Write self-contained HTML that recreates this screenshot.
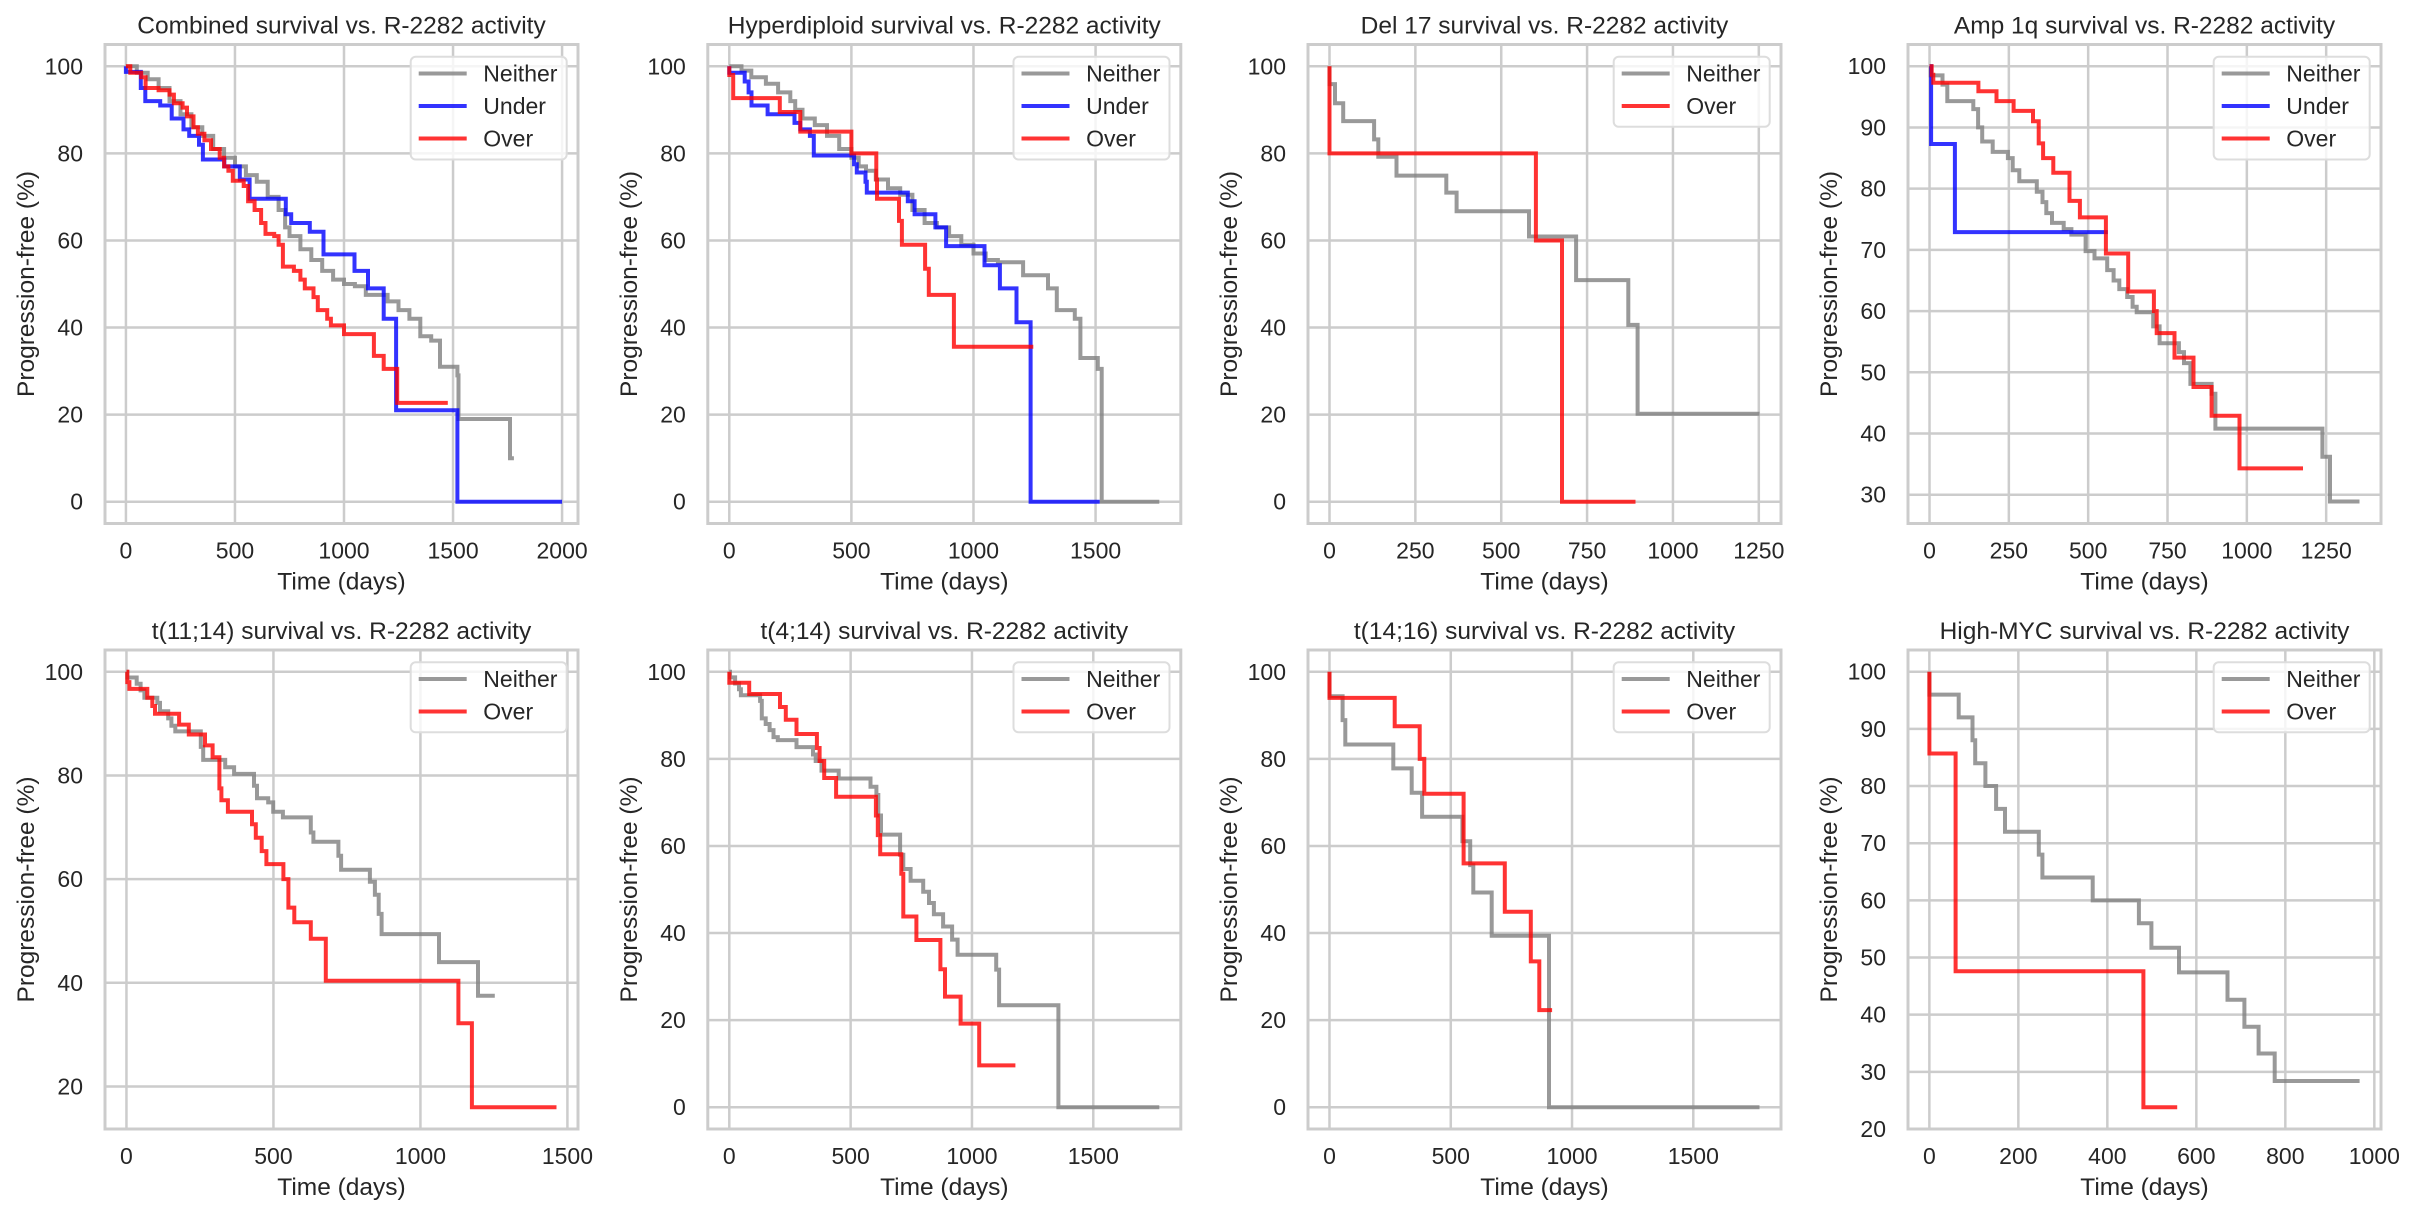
<!DOCTYPE html>
<html><head><meta charset="utf-8"><style>
html,body{margin:0;padding:0;background:#fff;}
svg{display:block;font-family:"Liberation Sans",Arial,sans-serif;}
</style></head><body>
<svg id="s" xmlns="http://www.w3.org/2000/svg" width="2418" height="1218" viewBox="0 0 2418 1218"></svg>
<script>
var NS="http://www.w3.org/2000/svg";
var S=document.getElementById('s');
function el(n,a,p){var e=document.createElementNS(NS,n);for(var k in a)e.setAttribute(k,a[k]);(p||S).appendChild(e);return e;}
function txt(x,y,t,a){var e=el('text',Object.assign({x:x,y:y,fill:'#262626'},a));e.textContent=t;return e;}
var G='rgba(128,128,128,0.8)',B='rgba(0,0,255,0.8)',R='rgba(255,0,0,0.8)';
var lefts=[105,707.8,1308,1908],tops=[44.5,650],W=473,H=479;
var P=[
{t:"Combined survival vs. R-2282 activity",xl:[-96,2073],yl:[-5,105],xt:[0,500,1000,1500,2000],yt:[0,20,40,60,80,100],lg:[["Neither",G],["Under",B],["Over",R]],s:[
[G,"0,100 50,98.5 100,97 150,95 200,92 250,89 300,86 350,84 400,81 450,79 500,77 550,75 600,73.5 650,70 700,67 730,63 750,61 800,58 850,55.5 900,53 950,51 1000,50 1050,49.5 1100,47.5 1200,46 1250,44 1300,42 1350,38 1400,37 1440,31 1520,29 1525,19 1761,10 1779,10"],
[B,"0,100 0,98.7 68,95 89,92 157,91 210,88 264,85.5 290,84 335,82 353,78.6 451,77 522,74 567,69.6 733,66 758,64 843,62 906,56.8 1048,53 1110,49 1182,42 1239,21 1520,0 2000,0"],
[R,"0,100 20,98.5 70,97.5 90,95 150,94.5 200,93.5 220,91.5 260,90.5 280,88.5 310,86 330,84.5 360,83 390,81 430,79 450,77 470,76 490,73.7 540,72.5 560,69 590,67 620,64 640,61.5 680,61 700,59 720,54 770,53 800,51 820,49 860,47 880,44 923,42 940,40.5 1000,38.5 1137,33.5 1182,30.5 1244,22.7 1476,22.7"]]},
{t:"Hyperdiploid survival vs. R-2282 activity",xl:[-88,1849],yl:[-5,105],xt:[0,500,1000,1500],yt:[0,20,40,60,80,100],lg:[["Neither",G],["Under",B],["Over",R]],s:[
[G,"0,100 50,99 90,97.5 150,96 200,94 250,92 270,90 300,88 350,86.5 400,84 450,81 500,79 530,77 560,76 600,74 650,72 700,70.5 750,67 800,64 850,63 900,61 950,59 1000,57 1050,55.5 1100,55 1203,52 1305,49 1341,44 1415,42 1438,33 1509,30.5 1525,0 1761,0"],
[B,"0,100 0,98.5 63,96.5 79,94 91,91 157,89 267,87 291,85.5 330,84 346,79.5 511,77.5 522,75.6 558,73.5 563,71 731,69 759,66 844,63 888,58.7 1045,54.3 1108,49 1176,41.2 1234,0 1517,0"],
[R,"0,100 0,98 16,92.7 207,89.5 291,85 500,80 602,74 605,69.6 695,64.5 707,59 802,53.5 817,47.5 920,35.6 1245,35.6"]]},
{t:"Del 17 survival vs. R-2282 activity",xl:[-62.6,1314.6],yl:[-5,105],xt:[0,250,500,750,1000,1250],yt:[0,20,40,60,80,100],lg:[["Neither",G],["Over",R]],s:[
[G,"0,100 0,95.9 16,91.5 40,87.4 130,83.2 142,79.2 195,74.9 340,71 370,66.7 581,60.9 718,50.9 870,40.6 897,20.2 1252,20.2"],
[R,"0,100 0,80 601,60 677,0 891,0"]]},
{t:"Amp 1q survival vs. R-2282 activity",xl:[-67.8,1422.8],yl:[25.3,103.55],xt:[0,250,500,750,1000,1250],yt:[30,40,50,60,70,80,90,100],lg:[["Neither",G],["Under",B],["Over",R]],s:[
[G,"0,100 4,98.5 41,97 56,94.3 138,93 153,90 166,87.7 199,86 247,85 262,83 283,81.2 338,79.5 356,77.8 368,76 386,74.4 423,73.4 447,72.5 492,69.8 520,68.6 560,66.7 580,65 598,63.6 623,62.3 640,60.7 653,59.8 705,57.5 725,54.75 786,53.3 802,51.5 822,48.1 889,46.5 901,40.8 1238,36.2 1262,28.9 1355,28.9"],
[B,"0,100 5,87.3 80,72.9 562,72.9"],
[R,"0,100 7,98.6 12,97.3 154,95.9 211,94.3 265,92.7 326,91 344,87.4 358,85 390,82.6 441,78 474,75.3 556,69.4 626,63.2 707,60 716,56.4 772,52.4 832,47.6 889,42.9 977,34.3 1177,34.3"]]},
{t:"t(11;14) survival vs. R-2282 activity",xl:[-73,1536],yl:[11.8,104.2],xt:[0,500,1000,1500],yt:[20,40,60,80,100],lg:[["Neither",G],["Over",R]],s:[
[G,"0,100 3,98.9 35,97.7 48,96.4 61,95 105,94 114,92.4 142,91 153,89.6 166,88.5 253,85.5 261,83 336,81.6 366,80.3 434,78 444,75.6 482,74.8 499,73 532,71.9 627,69 636,67.2 721,64.5 730,61.8 828,59.5 845,57 858,53.3 868,49.4 1063,44 1196,37.5 1253,37.5"],
[R,"0,100 3,98 10,96.7 71,95 88,93.4 97,91.9 179,89.8 212,87.9 267,85.8 293,83.5 316,77.5 323,75.2 345,73 427,70.6 440,68 460,65.4 476,62.9 534,60 551,54.5 571,51.7 627,48.5 678,40.4 1129,32.2 1175,16 1463,16"]]},
{t:"t(4;14) survival vs. R-2282 activity",xl:[-88.6,1860.6],yl:[-5,105],xt:[0,500,1000,1500],yt:[0,20,40,60,80,100],lg:[["Neither",G],["Over",R]],s:[
[G,"0,100 3,98.7 24,97.3 40,96 48,94.6 127,93.3 134,89.3 150,88 166,86.6 182,85 200,84.3 277,82.7 345,81 356,79.5 380,77.3 451,75.5 582,73.6 606,71.7 614,67 625,62.6 704,58 717,54.7 747,52 799,49.5 823,46.9 843,44.3 881,41.5 918,38.5 941,35 1100,31.6 1112,23.4 1356,0 1772,0"],
[R,"0,100 0,97.5 82,94.9 209,91.9 233,89 277,85.7 361,82.5 372,79.5 391,75.6 440,71.3 604,67 612,62.5 622,58.1 709,53.6 717,43.8 771,38.4 870,31.7 889,25.4 953,19.2 1030,9.6 1179,9.6"]]},
{t:"t(14;16) survival vs. R-2282 activity",xl:[-88.6,1861.6],yl:[-5,105],xt:[0,500,1000,1500],yt:[0,20,40,60,80,100],lg:[["Neither",G],["Over",R]],s:[
[G,"0,100 0,94.4 54,88.9 65,83.3 263,77.8 339,72.2 382,66.7 548,61.1 580,55.6 593,49.3 669,39.4 905,0 1773,0"],
[R,"0,100 0,94 269,87.5 372,80 391,72 553,56 723,44.9 830,33.5 865,22.3 918,22.3"]]},
{t:"High-MYC survival vs. R-2282 activity",xl:[-48,1015],yl:[20,103.8],xt:[0,200,400,600,800,1000],yt:[20,30,40,50,60,70,80,90,100],lg:[["Neither",G],["Over",R]],s:[
[G,"0,100 0,96 66,92 97,88 103,84 126,80 150,76 170,72 246,68 254,64 367,60 471,56 499,51.7 561,47.4 670,42.6 708,37.9 740,33.2 776,28.4 967,28.4"],
[R,"0,100 0,85.7 59,47.6 481,23.8 557,23.8"]]}
];
P.forEach(function(p,i){
  var L=lefts[i%4],T=tops[Math.floor(i/4)];
  var fx=function(v){return L+(v-p.xl[0])/(p.xl[1]-p.xl[0])*W;};
  var fy=function(v){return T+H-(v-p.yl[0])/(p.yl[1]-p.yl[0])*H;};
  var cid='c'+i;
  var cp=el('clipPath',{id:cid});el('rect',{x:L,y:T,width:W,height:H},cp);
  p.xt.forEach(function(v){var x=fx(v);el('line',{x1:x,x2:x,y1:T,y2:T+H,stroke:'#cccccc','stroke-width':2.5});
    txt(x,T+H+35,String(v),{'font-size':23,'text-anchor':'middle'});});
  p.yt.forEach(function(v){var y=fy(v);el('line',{x1:L,x2:L+W,y1:y,y2:y,stroke:'#cccccc','stroke-width':2.5});
    txt(L-22,y+8,String(v),{'font-size':23,'text-anchor':'end'});});
  el('rect',{x:L,y:T,width:W,height:H,fill:'none',stroke:'#cccccc','stroke-width':3});
  txt(L+W/2,T-11,p.t,{'font-size':24.5,'text-anchor':'middle'});
  txt(L+W/2,T+H+66,"Time (days)",{'font-size':24.5,'text-anchor':'middle'});
  var yl=txt(0,0,"Progression-free (%)",{'font-size':24.5,'text-anchor':'middle',transform:'translate('+(L-71)+','+(T+H/2)+') rotate(-90)'});
  var g=el('g',{'clip-path':'url(#'+cid+')'});
  p.s.forEach(function(s){
    var pts=s[1].split(' ').map(function(q){return q.split(',').map(Number);});
    var d='M'+fx(pts[0][0]).toFixed(1)+' '+fy(pts[0][1]).toFixed(1);
    for(var k=1;k<pts.length;k++){d+='H'+fx(pts[k][0]).toFixed(1)+'V'+fy(pts[k][1]).toFixed(1);}
    el('path',{d:d,fill:'none',stroke:s[0],'stroke-width':4,'stroke-linejoin':'miter'},g);
  });
  var n=p.lg.length,lw=156,lh=n==3?102.7:70,lx=L+W-11.3-lw,ly=T+12.3;
  el('rect',{x:lx,y:ly,width:lw,height:lh,rx:5,fill:'rgba(255,255,255,0.8)',stroke:'#dddddd','stroke-width':2});
  p.lg.forEach(function(e,k){var y=ly+16.7+k*32.5;
    el('line',{x1:lx+8,x2:lx+56,y1:y,y2:y,stroke:e[1],'stroke-width':4});
    txt(lx+72.6,y+8,e[0],{'font-size':23});});
});
</script>
</body></html>
